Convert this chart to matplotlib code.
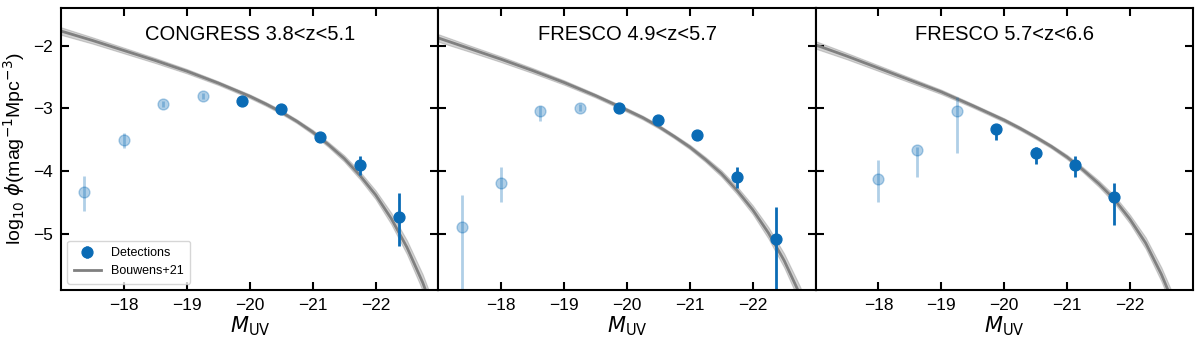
import numpy as np
import matplotlib
matplotlib.use("Agg")
import matplotlib.pyplot as plt

plt.rcParams['font.family'] = ['Liberation Sans', 'DejaVu Sans']
plt.rcParams['mathtext.fontset'] = 'dejavusans'

# magnitude bins of the measured LF
M_bins = [-17.37, -18.0, -18.62, -19.25, -19.87, -20.5, -21.12, -21.75, -22.37]

titles = ['CONGRESS 3.8<z<5.1', 'FRESCO 4.9<z<5.7', 'FRESCO 5.7<z<6.6']

# log10 phi per panel, with lower / upper errors
phi_congress = [-4.34, -3.50, -2.93, -2.81, -2.88, -3.02, -3.46, -3.91, -4.73]
lo_congress = [0.30, 0.13, 0.05, 0.05, 0.03, 0.03, 0.03, 0.16, 0.47]
hi_congress = [0.26, 0.11, 0.05, 0.05, 0.03, 0.03, 0.03, 0.14, 0.37]

phi_fresco5 = [-4.90, -4.19, -3.05, -2.99, -2.99, -3.19, -3.43, -4.10, -5.09]
lo_fresco5 = [1.50, 0.30, 0.15, 0.05, 0.03, 0.03, 0.03, 0.17, 1.50]
hi_fresco5 = [0.51, 0.25, 0.08, 0.05, 0.03, 0.03, 0.03, 0.16, 0.51]

phi_fresco6 = [-4.13, -3.67, -3.04, -3.33, -3.71, -3.91, -4.42]
lo_fresco6 = [0.37, 0.43, 0.68, 0.18, 0.18, 0.19, 0.44]
hi_fresco6 = [0.30, 0.05, 0.22, 0.05, 0.09, 0.15, 0.23]

# first n points of each panel are drawn faded
n_faded = [4, 4, 3]
first_bin = [0, 0, 1]

# Bouwens+21 curve
M_curve = [-17.0, -17.5, -18.0, -18.5, -19.0, -19.5, -20.0, -20.25, -20.5, -20.75,
           -21.0, -21.25, -21.5, -21.75, -22.0, -22.25, -22.5, -22.75, -23.0]
b21_z4 = [-1.77, -1.92, -2.08, -2.24, -2.41, -2.60, -2.81, -2.93, -3.06, -3.21,
          -3.38, -3.58, -3.80, -4.07, -4.38, -4.76, -5.22, -5.78, -6.46]
b21_z5 = [-1.88, -2.05, -2.22, -2.40, -2.59, -2.80, -3.03, -3.15, -3.29, -3.45,
          -3.62, -3.82, -4.04, -4.31, -4.62, -4.99, -5.43, -5.97, -6.62]
b21_z6 = [-1.99, -2.17, -2.36, -2.55, -2.74, -2.96, -3.19, -3.32, -3.46, -3.61,
          -3.78, -3.98, -4.20, -4.45, -4.77, -5.15, -5.65, -6.25, -6.90]
b21_err = [0.06, 0.05, 0.045, 0.04, 0.035, 0.03, 0.03, 0.03, 0.03, 0.03,
           0.035, 0.04, 0.05, 0.06, 0.07, 0.09, 0.11, 0.13, 0.15]

phis = [phi_congress, phi_fresco5, phi_fresco6]
los = [lo_congress, lo_fresco5, lo_fresco6]
his = [hi_congress, hi_fresco5, hi_fresco6]
curves = [b21_z4, b21_z5, b21_z6]

blue = '#0a6bb5'

fig, axes = plt.subplots(1, 3, figsize=(12, 3.44), dpi=100, sharey=True)
fig.subplots_adjust(left=0.051, right=0.994, top=0.977, bottom=0.157, wspace=0)

for i, ax in enumerate(axes):
    mc = np.array(M_curve)
    cv = np.array(curves[i])
    ev = np.array(b21_err)
    ax.fill_between(mc, cv - ev, cv + ev, color='gray', alpha=0.35, lw=0.8)
    line, = ax.plot(mc, cv, color='gray', lw=2, label='Bouwens+21')

    x = np.array(M_bins[first_bin[i]:first_bin[i] + len(phis[i])])
    y = np.array(phis[i])
    yerr = np.array([los[i], his[i]])
    nf = n_faded[i]
    # faded points
    ax.errorbar(x[:nf], y[:nf], yerr=yerr[:, :nf], fmt='o', color=blue, ms=7.8,
                elinewidth=2, capsize=0, alpha=0.32)
    # detections
    det = ax.errorbar(x[nf:], y[nf:], yerr=yerr[:, nf:], fmt='o', color=blue, ms=7.8,
                      elinewidth=2, capsize=0, label='Detections')

    ax.set_xlim(-17, -23)
    ax.set_ylim(-5.9, -1.4)
    ax.set_xticks([-18, -19, -20, -21, -22])
    ax.set_yticks([-2, -3, -4, -5])
    ax.tick_params(direction='in', top=True, right=True, length=6, width=1.5,
                   labelsize=12.5, pad=6)
    for s in ax.spines.values():
        s.set_linewidth(1.5)
    ax.set_xlabel(r'$M_{\rm UV}$', fontsize=15, labelpad=1)
    ax.text(0.5, 0.905, titles[i], transform=ax.transAxes, ha='center', va='center',
            fontsize=14.5)

    if i == 0:
        ax.legend([det, line], ['Detections', 'Bouwens+21'], loc='lower left',
                  fontsize=9, frameon=True, handlelength=2.2, borderpad=0.5,
                  labelspacing=0.5)

axes[0].set_ylabel(r'log$_{10}$ $\phi$(mag$^{-1}$Mpc$^{-3}$)', fontsize=14)

plt.savefig('out.png', dpi=100)
